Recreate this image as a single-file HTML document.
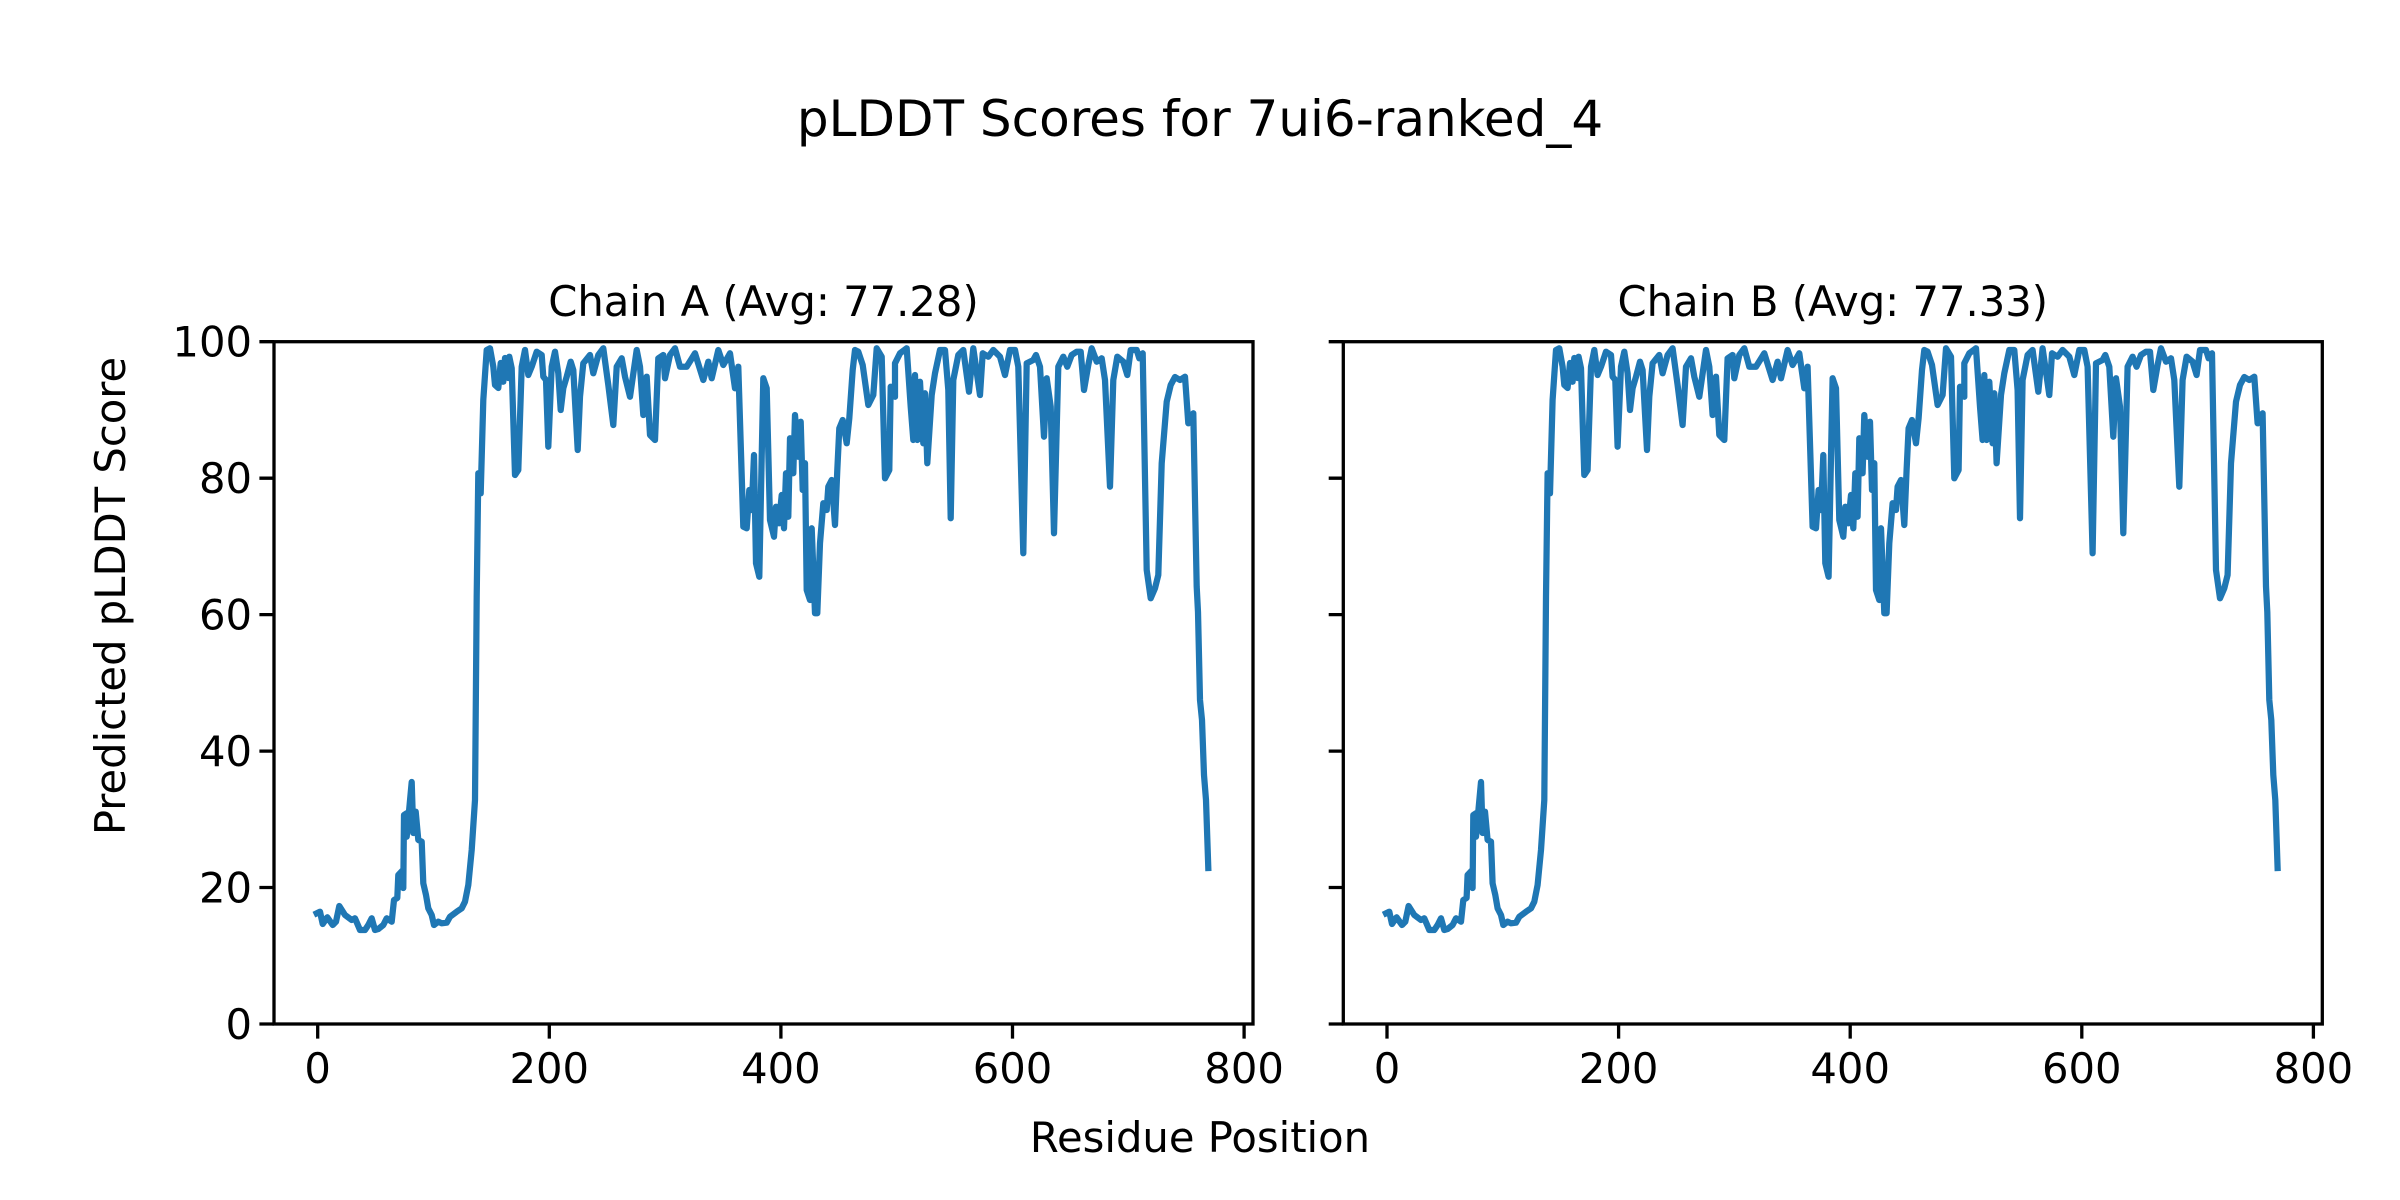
<!DOCTYPE html>
<html><head><meta charset="utf-8"><style>html,body{margin:0;padding:0;background:#fff}svg{display:block}</style></head>
<body>
<svg width="2400" height="1200" viewBox="0 0 2400 1200" xmlns="http://www.w3.org/2000/svg" font-family="DejaVu Sans, Liberation Sans, sans-serif">
<rect width="2400" height="1200" fill="#fff"/>
<defs>
<polyline id="ln" fill="none" stroke="#1f77b4" stroke-width="6.25" stroke-linejoin="round" stroke-linecap="square" points="316.7,913.3 320,911.7 322.7,924 327.3,917.3 332.7,925 336,921.7 339.3,906 345,915 351.7,920 355,918.3 360,930 365,930 368.3,925 371.7,918.3 375,930 378.3,929 383.3,925 386.7,918.3 391.7,921.7 394,900 397.3,898 398.3,875 402.3,870.7 403.3,888 404,815 406.7,813.3 406.7,836.7 409.3,808.3 411.7,782 413.3,833 415.7,811.7 418.3,840 421.7,841.7 423.3,883.3 426,895 428.3,908.3 431.7,915 434,925 438.3,921.7 441.7,923.3 446.7,922.7 450,916.7 456.7,911.7 461.7,908.3 465,901.7 468.3,885 471.7,850 475,800 476.7,596.7 478.3,473.3 480.7,493.3 483.3,400 486.7,350 490,348.3 493.3,366.7 495,385 498.3,388 500.7,363 503.3,381.7 505,358 508.3,378 509.3,356.7 511.7,368.3 515,475 518.3,470 521.7,366.7 525,350 528.3,375 531.7,366.7 536.7,351.7 541.7,355 543.3,376.7 546,380 548.3,446.7 551.7,366.7 555,351.7 558.3,373.3 560.7,410 563.3,388.3 566.7,376.7 570.7,361.7 573.3,370 577.7,450 580,396.7 583.3,363.3 590,355 593.3,373.3 598.3,355 603.3,348.3 608.3,385 613.3,425 616.7,366.7 621.7,358.3 625,376.7 630,396.7 636.7,350 640,366.7 643.3,415 646.7,376.7 650,435 655,440 658.3,358.3 663.3,355 665,378.3 670,355 675,348.3 680,366.7 686.7,366.7 695,353.3 703.3,380 708.3,361.7 711.7,378.3 718.3,350 723.3,365 730,353.3 735,388.3 738.3,366.7 743.3,526.7 746.7,528.3 749.3,490 751.7,510 754,455 756,563.3 759.3,576.7 761.7,456.7 763.3,378.3 766.7,388.3 770,520 774,536.7 776,506.7 779,523.3 781.7,495 784,528.3 786,473.3 788.3,516.7 790,438.3 793.3,473.3 795,415 798.3,456.7 800.7,421.7 802.7,490 805,463.3 806.7,590 810,600 811.7,528.3 815,613.3 817.3,613.3 820,543.3 823.3,503.3 826.7,510 828.3,486.7 831.7,480 835,525 837.3,470 839.3,428.3 842.7,420 846.7,443.3 849.3,418.3 852.7,370 855,350 858.3,351.7 862.7,365 868.3,405 873.3,395 876.7,348.3 881.7,356.7 885,478.3 889.3,470 890.7,386.7 895,396.7 895,363.3 900,353.3 906.7,348.3 910.7,406.7 913.3,440 915,375 917.3,440 920,381.7 923.3,443.3 925,393.3 927.3,463.3 931.7,395 935,373.3 940,350 945,350 948.3,390 950.7,518.3 953.3,380 958.3,355 963.3,350 969,391.7 973.3,348.3 980,395 982.7,353.3 988.3,356.7 993.3,350 1000,356.7 1005,375 1010,350 1015,350 1018.3,366.7 1023.3,553.3 1026.7,363.3 1033.3,360 1036,355 1040,366.7 1044,436.7 1046.7,378.3 1050.7,406.7 1054,533.3 1058.3,366.7 1063.3,356.7 1067.3,366.7 1071.7,355 1076.7,351.7 1080.7,351.7 1084,390 1088.3,365 1091.7,348.3 1096.7,361.7 1101.7,358.3 1105,380 1110,486.7 1113.3,380 1117.3,356.7 1123.3,361.7 1127.3,375 1130.7,350 1136.7,350 1139.3,358.3 1142.7,353.3 1146.7,570 1150.7,598.3 1155,588.3 1158.3,575 1161.7,463.3 1166.7,401.7 1170.7,385 1175,377 1180,380 1185,376.7 1188.3,423.3 1193.3,413.3 1196.7,586.7 1198,612 1200,700 1202,720 1204,775 1206,800 1208.3,868"/>
</defs>

<text x="1200" y="136" font-size="50" text-anchor="middle">pLDDT Scores for 7ui6-ranked_4</text>

<use href="#ln"/>
<text x="763.5" y="316" font-size="41.7" text-anchor="middle">Chain A (Avg: 77.28)</text>
<g stroke="#000" stroke-width="3.3" fill="none">
<rect x="274" y="341.7" width="979" height="682.3"/>
<path d="M274,341.7h-14.6M274,478.2h-14.6M274,614.6h-14.6M274,751.1h-14.6M274,887.5h-14.6M274,1024h-14.6"/>
<path d="M317.7,1024v14.6M549.3,1024v14.6M780.9,1024v14.6M1012.5,1024v14.6M1244.1,1024v14.6"/>
</g>
<g font-size="41.7" text-anchor="end">
<text x="252" y="356.7">100</text>
<text x="252" y="493.2">80</text>
<text x="252" y="629.6">60</text>
<text x="252" y="766.1">40</text>
<text x="252" y="902.5">20</text>
<text x="252" y="1039">0</text>
</g>
<g font-size="41.7" text-anchor="middle">
<text x="317.7" y="1083">0</text>
<text x="549.3" y="1083">200</text>
<text x="780.9" y="1083">400</text>
<text x="1012.5" y="1083">600</text>
<text x="1244.1" y="1083">800</text>
</g>

<g transform="translate(1069.3,0)">
<use href="#ln"/>
<text x="763.5" y="316" font-size="41.7" text-anchor="middle">Chain B (Avg: 77.33)</text>
<g stroke="#000" stroke-width="3.3" fill="none">
<rect x="274" y="341.7" width="979" height="682.3"/>
<path d="M274,341.7h-14.6M274,478.2h-14.6M274,614.6h-14.6M274,751.1h-14.6M274,887.5h-14.6M274,1024h-14.6"/>
<path d="M317.7,1024v14.6M549.3,1024v14.6M780.9,1024v14.6M1012.5,1024v14.6M1244.1,1024v14.6"/>
</g>
<g font-size="41.7" text-anchor="middle">
<text x="317.7" y="1083">0</text>
<text x="549.3" y="1083">200</text>
<text x="780.9" y="1083">400</text>
<text x="1012.5" y="1083">600</text>
<text x="1244.1" y="1083">800</text>
</g>
</g>

<text x="1200" y="1152" font-size="41.7" text-anchor="middle">Residue Position</text>
<text transform="translate(125,596) rotate(-90)" font-size="41.7" text-anchor="middle">Predicted pLDDT Score</text>
</svg>
</body></html>
